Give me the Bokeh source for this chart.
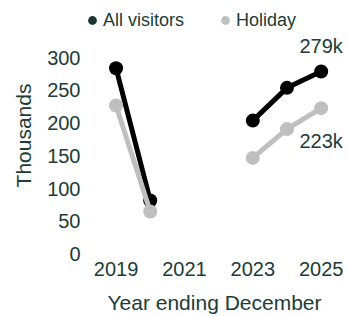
import math
from bokeh.plotting import figure
from bokeh.models import FixedTicker, Legend, LegendItem
from bokeh.embed import file_html
from bokeh.resources import INLINE
from bokeh.core.properties import value

nan = math.nan

# ---- data ----
years = [2019, 2020, 2021, 2022, 2023, 2024, 2025]
all_visitors = [284, 82, nan, nan, 204, 254, 279]
holiday = [227, 65, nan, nan, 147, 191, 223]
series_names = ["All visitors", "Holiday"]
end_labels = ["279k", "223k"]
x_ticks = [2019, 2021, 2023, 2025]
y_ticks = [0, 50, 100, 150, 200, 250, 300]

# ---- style ----
FONT = "Liberation Sans"
TEXT = "#203c36"
BLACK = "#000000"
GREY = "#bfbfbf"
LEGEND_DARK = "#1b3530"

p = figure(width=347, height=316, output_backend="svg", toolbar_location=None,
           x_range=(2017.99, 2025.77), y_range=(-11.3, 373.7),
           min_border_left=81, min_border_right=0, min_border_top=9, min_border_bottom=0)
p.outline_line_color = None
p.xgrid.grid_line_color = None
p.ygrid.grid_line_color = None
p.background_fill_color = None
p.border_fill_color = None

for ax in (p.xaxis[0], p.yaxis[0]):
    ax.axis_line_color = None
    ax.major_tick_line_color = None
    ax.minor_tick_line_color = None
    ax.major_tick_out = 0
    ax.major_tick_in = 0
    ax.minor_tick_out = 0
    ax.major_label_text_font = FONT
    ax.major_label_text_font_size = "20px"
    ax.major_label_text_color = TEXT
    ax.axis_label_text_font = FONT
    ax.axis_label_text_font_size = "21px"
    ax.axis_label_text_font_style = "normal"
    ax.axis_label_text_color = TEXT

p.xaxis[0].ticker = FixedTicker(ticks=x_ticks)
p.xaxis[0].major_label_standoff = 0
p.xaxis[0].axis_label = "Year ending December"
p.xaxis[0].axis_label_standoff = 12

p.yaxis[0].ticker = FixedTicker(ticks=y_ticks)
p.yaxis[0].major_label_standoff = 1
p.yaxis[0].axis_label = "Thousands"
p.yaxis[0].axis_label_standoff = 9

# lines and markers
p.line(years, all_visitors, line_color=BLACK, line_width=5)
p.scatter(years, all_visitors, size=14, fill_color=BLACK, line_color=None)
p.line(years, holiday, line_color=GREY, line_width=5)
p.scatter(years, holiday, size=14, fill_color=GREY, line_color=None)

# end labels
p.text(x=[years[-1]], y=[all_visitors[-1]], text=[end_labels[0]], y_offset=-25,
       text_align="center", text_baseline="middle", text_font=value(FONT),
       text_font_size="20px", text_color=TEXT)
p.text(x=[years[-1]], y=[holiday[-1]], text=[end_labels[1]], y_offset=33,
       text_align="center", text_baseline="middle", text_font=value(FONT),
       text_font_size="20px", text_color=TEXT)

# legend (dot markers only)
lr1 = p.scatter(x=[nan], y=[nan], size=9, fill_color=LEGEND_DARK, line_color=None)
lr2 = p.scatter(x=[nan], y=[nan], size=9, fill_color=GREY, line_color=None)
legend = Legend(items=[LegendItem(label=series_names[0], renderers=[lr1]),
                       LegendItem(label=series_names[1], renderers=[lr2])],
                orientation="horizontal", location="top_left",
                glyph_width=22, glyph_height=22, label_standoff=0, spacing=30,
                padding=0, margin=0, border_line_color=None,
                background_fill_alpha=0,
                label_text_font=FONT, label_text_font_size="18px",
                label_text_color=TEXT)
p.add_layout(legend)

open("out.html", "w").write(file_html(p, INLINE))
